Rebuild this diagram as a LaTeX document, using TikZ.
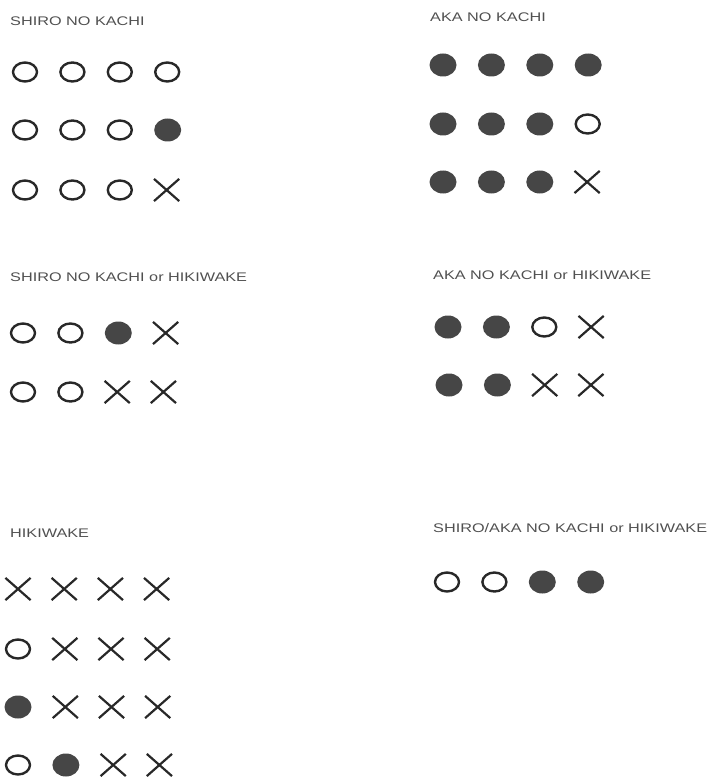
\documentclass[tikz,border=0pt]{standalone}
\usepackage{fontspec}
\usepackage{xcolor}
\usepackage{tikz}
\usetikzlibrary{positioning,shapes.geometric,shapes.misc}
\newfontfamily\labelfont[FakeStretch=1.3]{Liberation Sans}
\definecolor{inkdark}{RGB}{40,40,40}
\definecolor{dotgray}{RGB}{70,70,70}
\definecolor{textgray}{RGB}{80,80,80}
\tikzset{
  shiro/.style={
    ellipse,
    draw=inkdark,
    line width=2.4pt,
    minimum width=24pt,
    minimum height=19pt,
    inner sep=0pt
  },
  aka/.style={
    ellipse,
    fill=dotgray,
    minimum width=27pt,
    minimum height=23pt,
    inner sep=0pt
  },
  batsu/.style={
    cross out,
    draw=inkdark,
    line width=2.2pt,
    minimum width=23pt,
    minimum height=20pt,
    inner sep=0pt
  },
  rule/.style={
    anchor=west,
    inner sep=0pt,
    text=textgray,
    font=\labelfont\fontsize{12.5}{15}\selectfont
  }
}

\begin{document}
\begin{tikzpicture}[x=1pt,y=-1pt,node distance=21pt]
\useasboundingbox (0,0) rectangle (717,778);
% shiro no kachi
\node[rule] (sk) at (10,21) {SHIRO NO KACHI};
\node[shiro] (sk11) at (25,72) {};
\node[shiro, right=of sk11] (sk12) {};
\node[shiro, right=of sk12] (sk13) {};
\node[shiro, right=of sk13] (sk14) {};
\node[shiro] (sk21) at (25,130) {};
\node[shiro, right=of sk21] (sk22) {};
\node[shiro, right=of sk22] (sk23) {};
\node[aka, right=of sk23] (sk24) {};
\node[shiro] (sk31) at (25,190) {};
\node[shiro, right=of sk31] (sk32) {};
\node[shiro, right=of sk32] (sk33) {};
\node[batsu, right=of sk33] (sk34) {};
% aka no kachi
\node[rule] (ak) at (430,17) {AKA NO KACHI};
\node[aka] (ak11) at (443,65) {};
\node[aka, right=of ak11] (ak12) {};
\node[aka, right=of ak12] (ak13) {};
\node[aka, right=of ak13] (ak14) {};
\node[aka] (ak21) at (443,124) {};
\node[aka, right=of ak21] (ak22) {};
\node[aka, right=of ak22] (ak23) {};
\node[shiro, right=of ak23] (ak24) {};
\node[aka] (ak31) at (443,182) {};
\node[aka, right=of ak31] (ak32) {};
\node[aka, right=of ak32] (ak33) {};
\node[batsu, right=of ak33] (ak34) {};
% shiro no kachi or hikiwake
\node[rule] (skh) at (10,277) {SHIRO NO KACHI or HIKIWAKE};
\node[shiro] (skh11) at (23,333) {};
\node[shiro, right=of skh11] (skh12) {};
\node[aka, right=of skh12] (skh13) {};
\node[batsu, right=of skh13] (skh14) {};
\node[shiro] (skh21) at (23,392) {};
\node[shiro, right=of skh21] (skh22) {};
\node[batsu, right=of skh22] (skh23) {};
\node[batsu, right=of skh23] (skh24) {};
% aka no kachi or hikiwake
\node[rule] (akh) at (433,275) {AKA NO KACHI or HIKIWAKE};
\node[aka] (akh11) at (448,327) {};
\node[aka, right=of akh11] (akh12) {};
\node[shiro, right=of akh12] (akh13) {};
\node[batsu, right=of akh13] (akh14) {};
\node[aka] (akh21) at (449,385) {};
\node[aka, right=of akh21] (akh22) {};
\node[batsu, right=of akh22] (akh23) {};
\node[batsu, right=of akh23] (akh24) {};
% hikiwake
\node[rule] (hw) at (10,533) {HIKIWAKE};
\node[batsu] (hw11) at (18,589) {};
\node[batsu, right=of hw11] (hw12) {};
\node[batsu, right=of hw12] (hw13) {};
\node[batsu, right=of hw13] (hw14) {};
\node[shiro] (hw21) at (18,649) {};
\node[batsu, right=of hw21] (hw22) {};
\node[batsu, right=of hw22] (hw23) {};
\node[batsu, right=of hw23] (hw24) {};
\node[aka] (hw31) at (18,707) {};
\node[batsu, right=of hw31] (hw32) {};
\node[batsu, right=of hw32] (hw33) {};
\node[batsu, right=of hw33] (hw34) {};
\node[shiro] (hw41) at (18,765) {};
\node[aka, right=of hw41] (hw42) {};
\node[batsu, right=of hw42] (hw43) {};
\node[batsu, right=of hw43] (hw44) {};
% shiro/aka no kachi or hikiwake
\node[rule] (sah) at (433,528) {SHIRO/AKA NO KACHI or HIKIWAKE};
\node[shiro] (sah11) at (447,582) {};
\node[shiro, right=of sah11] (sah12) {};
\node[aka, right=of sah12] (sah13) {};
\node[aka, right=of sah13] (sah14) {};
\end{tikzpicture}
\end{document}
